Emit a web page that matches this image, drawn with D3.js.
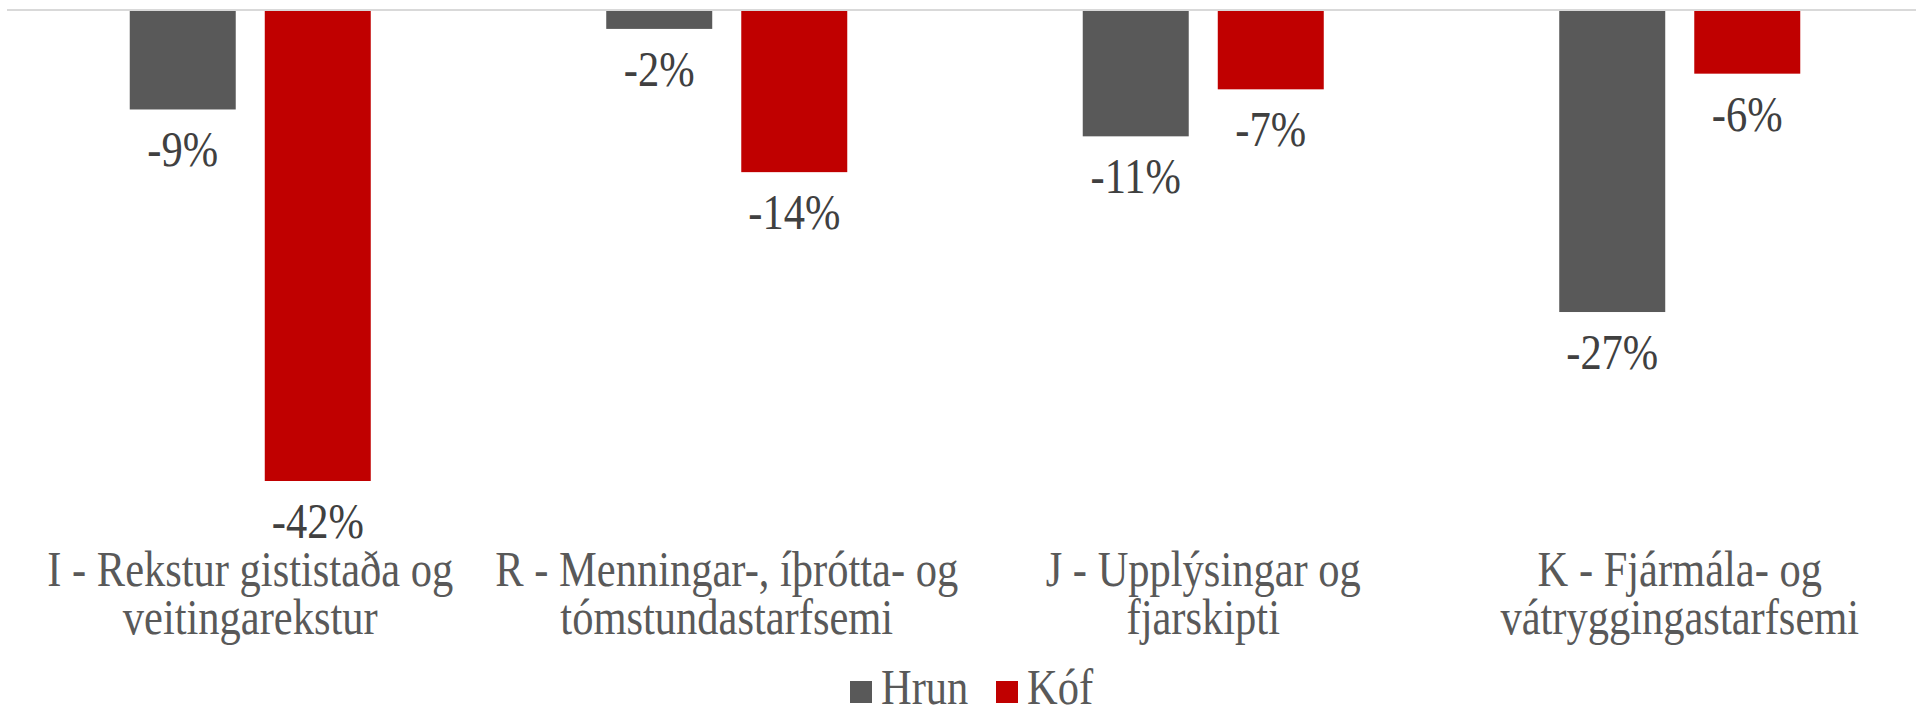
<!DOCTYPE html>
<html>
<head>
<meta charset="utf-8">
<script src="https://cdn.jsdelivr.net/npm/d3@7"></script>
<style>
  html, body { margin: 0; padding: 0; background: #fff; }
  svg { display: block; }
</style>
</head>
<body>
<svg id="chart" width="1916" height="709"></svg>
<script>
// ---- Data ----
const categories = [
  ["I - Rekstur gististaða og", "veitingarekstur"],
  ["R - Menningar-, íþrótta- og", "tómstundastarfsemi"],
  ["J - Upplýsingar og", "fjarskipti"],
  ["K - Fjármála- og", "vátryggingastarfsemi"]
];
const seriesNames = ["Hrun", "Kóf"];
const hrunValues = [-0.088, -0.016, -0.112, -0.269];
const kofValues  = [-0.420, -0.144, -0.070, -0.056];
const seriesColors = ["#595959", "#c00000"];

// ---- Layout ----
const W = 1916, H = 709;
const svg = d3.select("#chart");
const SX = 0.85;          // horizontal compression of the text glyphs
const fontSize = 50;
const FONT = '"Liberation Serif"';

const catIdx = categories.map((d, i) => i);
const x0 = d3.scaleBand().domain(catIdx).range([12, 1918]).paddingInner(0).paddingOuter(0);
const x1 = d3.scaleBand().domain(seriesNames).range([0, x0.bandwidth()])
  .paddingInner(0.215).paddingOuter(0.872);
const y = d3.scaleLinear().domain([-0.42, 0]).range([481, 11]);

const fmt = d3.formatLocale({decimal: ".", thousands: ",", grouping: [3], currency: ["", ""], minus: "-", percent: "%"}).format(".0%");

const rows = catIdx.map(i => ({i, vals: [hrunValues[i], kofValues[i]]}));

function sText(g, x, yy, str, color, anchor) {
  return g.append("g").attr("transform", `translate(${x},${yy})`)
    .append("text")
    .attr("transform", `scale(${SX},1)`)
    .attr("text-anchor", anchor || "middle")
    .style("font-family", FONT)
    .style("font-size", fontSize + "px")
    .attr("fill", color)
    .text(str);
}

// zero line
svg.append("line")
  .attr("x1", 7).attr("x2", W)
  .attr("y1", y(0) - 1).attr("y2", y(0) - 1)
  .attr("stroke", "#d9d9d9").attr("stroke-width", 2);

// bars
const groups = svg.append("g").selectAll("g").data(rows).join("g")
  .attr("transform", d => `translate(${x0(d.i)},0)`);

groups.selectAll("rect").data(d => d.vals.map((v, k) => ({v, k})))
  .join("rect")
  .attr("x", d => x1(seriesNames[d.k]))
  .attr("width", x1.bandwidth())
  .attr("y", y(0))
  .attr("height", d => y(d.v) - y(0))
  .attr("fill", d => seriesColors[d.k]);

// data labels
groups.each(function(d) {
  const g = d3.select(this);
  d.vals.forEach((v, k) => {
    sText(g, x1(seriesNames[k]) + x1.bandwidth() / 2, y(v) + 57, fmt(v), "#404040");
  });
});

// category labels
categories.forEach((lines, i) => {
  const cx = x0(i) + x0.bandwidth() / 2;
  lines.forEach((ln, j) => {
    sText(svg, cx, 586 + j * 48, ln, "#595959");
  });
});

// legend
const legendX = [850, 996];
seriesNames.forEach((name, k) => {
  const lx = legendX[k];
  svg.append("rect").attr("x", lx).attr("y", 681).attr("width", 22).attr("height", 22)
    .attr("fill", seriesColors[k]);
  sText(svg, lx + 31, 704, name, "#595959", "start");
});
</script>
</body>
</html>
